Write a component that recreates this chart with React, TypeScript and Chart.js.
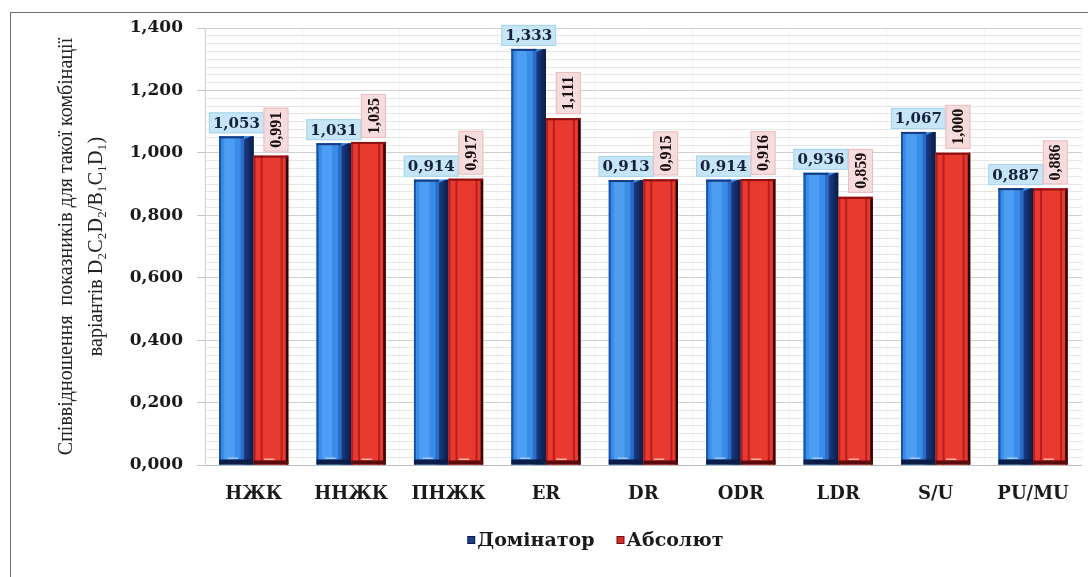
import React, { useEffect, useRef } from "react";
import { Chart, registerables } from "chart.js";

Chart.register(...registerables);

const categories = ["НЖК", "ННЖК", "ПНЖК", "ER", "DR", "ODR", "LDR", "S/U", "PU/MU"];
const dominatorValues = [1.053, 1.031, 0.914, 1.333, 0.913, 0.914, 0.936, 1.067, 0.887];
const absolutValues = [0.991, 1.035, 0.917, 1.111, 0.915, 0.916, 0.859, 1.0, 0.886];
const seriesNames = ["Домінатор", "Абсолют"];
const yTitleLines = [
  "Співвідношення  показників для такої комбінації",
  "варіантів D₂C₂D₂/B₁C₁D₁)",
];
const yMin = 0;
const yMax = 1.4;
const majorStep = 0.2;
const minorStep = 0.025;

const fmt = (v: number) => v.toFixed(3).replace(".", ",");
const isMajor = (v: number) => Math.abs(v / majorStep - Math.round(v / majorStep)) < 1e-6;

const barStylePlugin = {
  id: "bar3d",
  afterDatasetsDraw(chart: any) {
    const ctx = chart.ctx;
    ctx.save();
    chart.data.datasets.forEach((ds: any, di: number) => {
      const meta = chart.getDatasetMeta(di);
      meta.data.forEach((el: any) => {
        const w = el.width;
        const L = el.x - w / 2;
        const R = el.x + w / 2;
        const T = el.y;
        const B = el.base;
        const H = B - T;
        if (di === 0) {
          ctx.fillStyle = "#3a8de6";
          ctx.fillRect(L, T, w, H);
          ctx.fillStyle = "#4d9df2";
          ctx.fillRect(L + w * 0.15, T, w * 0.3, H);
          ctx.fillStyle = "#1a52ad";
          ctx.fillRect(L, T, 2, H);
          ctx.fillStyle = "#2a6cc8";
          ctx.fillRect(L + w * 0.62, T, w * 0.1, H);
          const g = ctx.createLinearGradient(L + w * 0.72, 0, R, 0);
          g.addColorStop(0, "#1a3c86");
          g.addColorStop(1, "#0a1c46");
          ctx.fillStyle = g;
          ctx.beginPath();
          ctx.moveTo(L + w * 0.72, T + 3);
          ctx.lineTo(R - 3, T);
          ctx.lineTo(R, T);
          ctx.lineTo(R, B);
          ctx.lineTo(L + w * 0.72, B);
          ctx.closePath();
          ctx.fill();
          ctx.fillStyle = "#163a80";
          ctx.fillRect(L, T, w * 0.72, 2);
          ctx.fillStyle = "#0b1d48";
          ctx.fillRect(L, B - 5, w, 5);
          ctx.fillStyle = "#9cc8f2";
          ctx.fillRect(L + w * 0.25, B - 7, w * 0.3, 1.5);
        } else {
          ctx.fillStyle = "#e83a2f";
          ctx.fillRect(L, T, w, H);
          ctx.fillStyle = "#b81e1e";
          ctx.fillRect(L, T, 2, H);
          ctx.fillRect(L + w * 0.2, T, 2, H);
          ctx.fillRect(L + w * 0.78, T, 2, H);
          ctx.fillStyle = "#2a0606";
          ctx.fillRect(R - 2.5, T, 2.5, H);
          ctx.fillStyle = "#8a1212";
          ctx.fillRect(L, T, w, 2);
          ctx.fillStyle = "#5a0b0b";
          ctx.fillRect(L, B - 4, w, 4);
          ctx.fillStyle = "#f6b0a0";
          ctx.fillRect(L + w * 0.3, B - 6, w * 0.3, 1.5);
        }
      });
    });
    ctx.restore();
  },
};

const labelPlugin = {
  id: "valueLabels",
  afterDatasetsDraw(chart: any) {
    const ctx = chart.ctx;
    ctx.save();
    // blue (horizontal) labels first
    const m0 = chart.getDatasetMeta(0);
    ctx.font = "bold 15px 'DejaVu Serif'";
    ctx.textBaseline = "middle";
    ctx.textAlign = "center";
    m0.data.forEach((el: any, i: number) => {
      const t = fmt(chart.data.datasets[0].data[i]);
      const tw = ctx.measureText(t).width;
      const bw = tw + 8;
      const bh = 21;
      const bottom = el.y - 3;
      ctx.fillStyle = "#c6e6f7";
      ctx.fillRect(el.x - bw / 2, bottom - bh, bw, bh);
      ctx.strokeStyle = "#a6d4ee";
      ctx.lineWidth = 1;
      ctx.strokeRect(el.x - bw / 2 + 0.5, bottom - bh + 0.5, bw - 1, bh - 1);
      ctx.fillStyle = "#14213d";
      ctx.fillText(t, el.x, bottom - bh / 2 + 1);
    });
    // red (rotated) labels
    const m1 = chart.getDatasetMeta(1);
    ctx.font = "bold 16px 'Liberation Serif'";
    m1.data.forEach((el: any, i: number) => {
      const t = fmt(chart.data.datasets[1].data[i]);
      const tw = ctx.measureText(t).width;
      const len = tw + 8;
      const thick = 25;
      const cx = el.x + 5;
      const bottom = el.y - 4;
      ctx.save();
      ctx.translate(cx, bottom);
      ctx.rotate(-Math.PI / 2);
      ctx.fillStyle = "#f6dcdc";
      ctx.fillRect(0, -thick / 2, len, thick);
      ctx.strokeStyle = "#ebbdbd";
      ctx.lineWidth = 1;
      ctx.strokeRect(0.5, -thick / 2 + 0.5, len - 1, thick - 1);
      ctx.fillStyle = "#1a1010";
      ctx.textAlign = "left";
      ctx.textBaseline = "middle";
      ctx.fillText(t, 4, 1);
      ctx.restore();
    });
    ctx.restore();
  },
};

const legendPlugin = {
  id: "customLegend",
  afterDraw(chart: any) {
    const ctx = chart.ctx;
    const area = chart.chartArea;
    ctx.save();
    ctx.font = "bold 19px 'DejaVu Serif'";
    ctx.textBaseline = "middle";
    ctx.textAlign = "left";
    const marker = 8;
    const gapText = 2;
    const gapItems = 22;
    const widths = seriesNames.map((n) => marker + gapText + ctx.measureText(n).width);
    const total = widths.reduce((a, b) => a + b, 0) + gapItems * (seriesNames.length - 1);
    const centerX = (area.left + area.right) / 2 - 48;
    const y = 541;
    let x = centerX - total / 2;
    const markerFill = ["#1c3f8a", "#d42c2c"];
    const markerEdge = ["#0b1c44", "#6a1010"];
    seriesNames.forEach((n, i) => {
      ctx.fillStyle = markerEdge[i];
      ctx.fillRect(x, y - marker / 2 - 1, marker, marker);
      ctx.fillStyle = markerFill[i];
      ctx.fillRect(x + 1, y - marker / 2, marker - 2, marker - 2);
      ctx.fillStyle = "#1a1a1a";
      ctx.fillText(n, x + marker + gapText, y);
      x += widths[i] + gapItems;
    });
    ctx.restore();
  },
};

export default function App() {
  const ref = useRef<HTMLCanvasElement | null>(null);

  useEffect(() => {
    if (!ref.current) return;
    const chart = new Chart(ref.current, {
      type: "bar",
      data: {
        labels: categories,
        datasets: [
          {
            label: seriesNames[0],
            data: dominatorValues,
            backgroundColor: "#3a8de6",
            categoryPercentage: 0.71,
            barPercentage: 1.0,
          },
          {
            label: seriesNames[1],
            data: absolutValues,
            backgroundColor: "#e83a2f",
            categoryPercentage: 0.71,
            barPercentage: 1.0,
          },
        ],
      },
      options: {
        responsive: false,
        animation: false,
        devicePixelRatio: 1,
        layout: { padding: { left: 0, right: 4, top: 28, bottom: 72 } },
        plugins: {
          legend: { display: false },
          tooltip: { enabled: false },
        },
        scales: {
          x: {
            afterFit: (s: any) => {
              s.height = 40;
            },
            grid: {
              display: true,
              offset: true,
              color: "rgba(0,0,0,0.045)",
              drawTicks: false,
            },
            border: { display: true, color: "#bdbdbd" },
            ticks: {
              padding: 19,
              color: "#1a1a1a",
              font: { family: "'DejaVu Serif'", size: 18, weight: "bold" },
            },
          },
          y: {
            min: yMin,
            max: yMax,
            afterFit: (s: any) => {
              s.width = 205;
            },
            title: {
              display: true,
              text: yTitleLines,
              color: "#222",
              font: { family: "'Liberation Serif'", size: 20, lineHeight: 1.5 },
              padding: { top: 52, bottom: 0 },
            },
            grid: {
              color: (c: any) => (c.tick && isMajor(c.tick.value) ? "#cfcfcf" : "#e6e6e6"),
              tickColor: (c: any) => (c.tick && isMajor(c.tick.value) ? "#c4c4c4" : "rgba(0,0,0,0)"),
              tickLength: 8,
            },
            border: { display: true, color: "#d6d6d6" },
            ticks: {
              stepSize: minorStep,
              maxTicksLimit: 100,
              autoSkip: false,
              padding: 14,
              color: "#1a1a1a",
              font: { family: "'DejaVu Serif'", size: 17, weight: "bold" },
              callback: (v: any) => (isMajor(Number(v)) ? fmt(Number(v)) : ""),
            },
          },
        },
      },
      plugins: [barStylePlugin, labelPlugin, legendPlugin],
    });
    return () => chart.destroy();
  }, []);

  return (
    <div
      style={{
        position: "fixed",
        left: 0,
        top: 0,
        width: 1088,
        height: 577,
        background: "#ffffff",
        overflow: "hidden",
      }}
    >
      <div
        style={{
          position: "absolute",
          left: 10,
          top: 12,
          width: 1100,
          height: 600,
          borderLeft: "1px solid #6e6e6e",
          borderTop: "1px solid #6e6e6e",
        }}
      />
      <canvas
        ref={ref}
        width={1088}
        height={577}
        style={{ position: "absolute", left: 0, top: 0, width: 1088, height: 577 }}
      />
    </div>
  );
}
